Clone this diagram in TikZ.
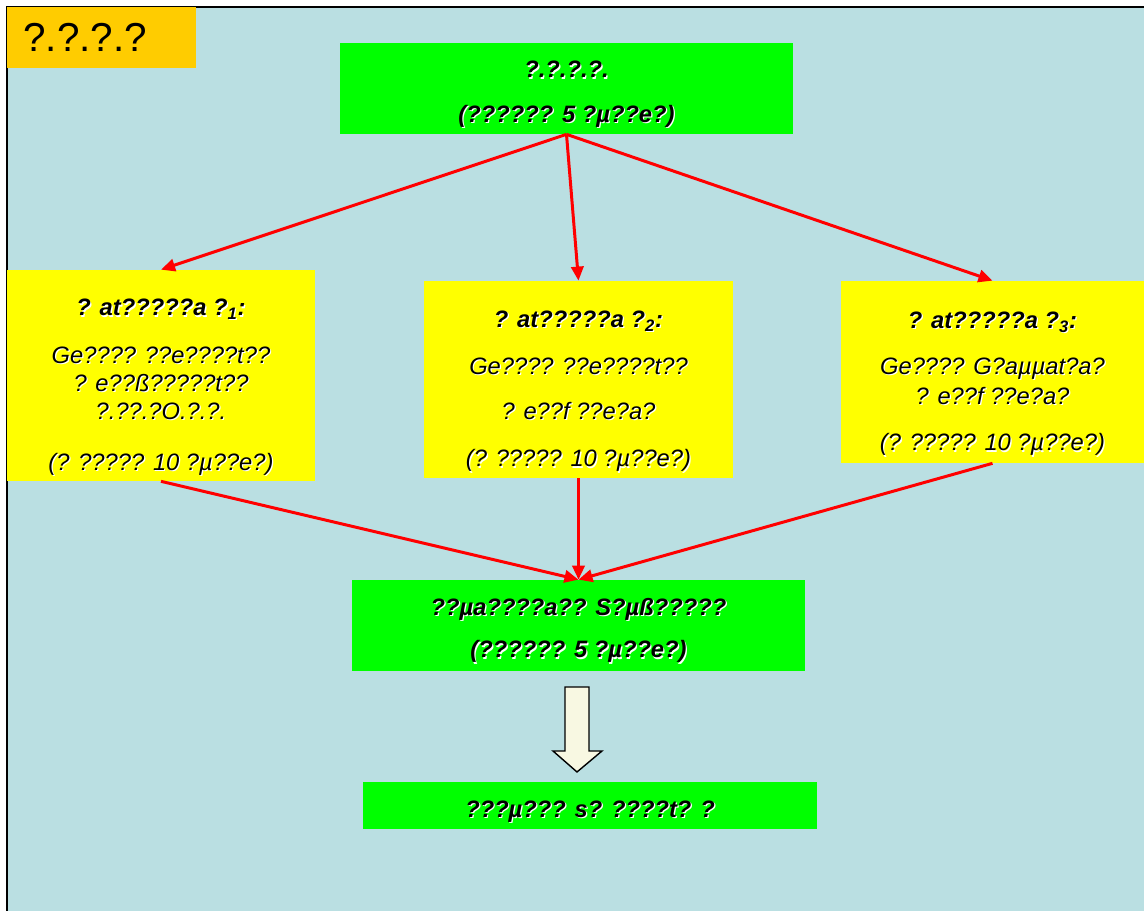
\documentclass[tikz,border=0pt]{standalone}
\usepackage{fontspec}
\setmainfont{Liberation Sans}
\usetikzlibrary{arrows.meta}

\definecolor{bgblue}{HTML}{BADFE2}
\definecolor{boxgreen}{HTML}{00FF00}
\definecolor{boxyellow}{HTML}{FFFF00}
\definecolor{taborange}{HTML}{FFCC00}
\definecolor{arrowfill}{HTML}{F8F8E2}

% white drop shadow under a line of text
\newcommand{\shd}[1]{\makebox[0pt][l]{\hspace{0.7pt}\raisebox{-0.7pt}{\color{white}#1}}#1}
% pushes a box's text a little lower
\newcommand{\lowr}[1]{\rule{0pt}{#1}}

\tikzset{
  greenbox/.style={fill=boxgreen, inner sep=0pt, align=center, font=\fontsize{13.5}{16}\selectfont\bfseries\itshape},
  yellowbox/.style={fill=boxyellow, inner sep=0pt, align=center, font=\fontsize{13.5}{16}\selectfont\itshape},
  flow/.style={red, line width=1.7pt, -{Triangle[length=8pt,width=7pt]}},
}

\begin{document}
\begin{tikzpicture}[x=0.02cm, y=-0.02cm]
	\useasboundingbox (0,0) rectangle (1144,911);
	\fill[bgblue] (7,7) rectangle (1150,915);
	\draw[line width=1.2pt] (7,920) -- (7,7) -- (1150,7);

	\node[fill=taborange, anchor=west, minimum height=1.22cm, text width=3.14cm, inner xsep=0.32cm, inner ysep=0pt, align=left, font=\fontsize{23}{26}\selectfont] (tag) at (7,37.5) {?.?.?.?};

	\node[greenbox, minimum width=9.06cm, minimum height=1.82cm] (top) at (566.5,88.5) {\lowr{16.8pt}\shd{?.?.?.?.}\\[9.5pt]\shd{(?????? 5 ?µ??e?)}};

	\node[yellowbox, minimum width=6.16cm, minimum height=4.22cm] (pa) at (161,375.5) {\lowr{23.6pt}\bfseries\shd{? at?????a ?\textsubscript{1}:}\\[11pt]
		\shd{Ge???? ??e????t??}\\ \shd{? e??ß?????t??}\\ \shd{?.??.?O.?.?.}\\[13pt] \shd{(? ????? 10 ?µ??e?)}};
	\node[yellowbox, minimum width=6.18cm, minimum height=3.94cm] (pb) at (578.5,379.5) {\lowr{23.6pt}\bfseries\shd{? at?????a ?\textsubscript{2}:}\\[11pt]
		\shd{Ge???? ??e????t??}\\[9.5pt] \shd{? e??f ??e?a?}\\[11pt] \shd{(? ????? 10 ?µ??e?)}};
	\node[yellowbox, minimum width=6.06cm, minimum height=3.64cm] (pc) at (992.5,372) {\lowr{23.6pt}\bfseries\shd{? at?????a ?\textsubscript{3}:}\\[10pt]
		\shd{Ge???? G?aµµat?a?}\\[1pt] \shd{? e??f ??e?a?}\\[10.6pt] \shd{(? ????? 10 ?µ??e?)}};

	\node[greenbox, minimum width=9.06cm, minimum height=1.82cm] (sum) at (578.5,625.5) {\lowr{16pt}\shd{??µa????a?? S?µß?????}\\[8.4pt]\shd{(?????? 5 ?µ??e?)}};
	\node[greenbox, minimum width=9.08cm, minimum height=0.94cm] (res) at (590,805.5) {\lowr{16.8pt}\shd{???µ??? s? ????t? ?}};

	\draw[flow] (top.south) -- (pa.north);
	\draw[flow] (top.south) -- (pb.north);
	\draw[flow] (top.south) -- (pc.north);
	\draw[flow] (pa.south) -- (sum.north);
	\draw[flow] (pb.south) -- (sum.north);
	\draw[flow] (pc.south) -- (sum.north);

	\draw[fill=arrowfill, line width=0.8pt] (565,687) -- (589,687) -- (589,751) -- (602,751) -- (577,772) -- (553,751) -- (565,751) -- cycle;
\end{tikzpicture}
\end{document}
